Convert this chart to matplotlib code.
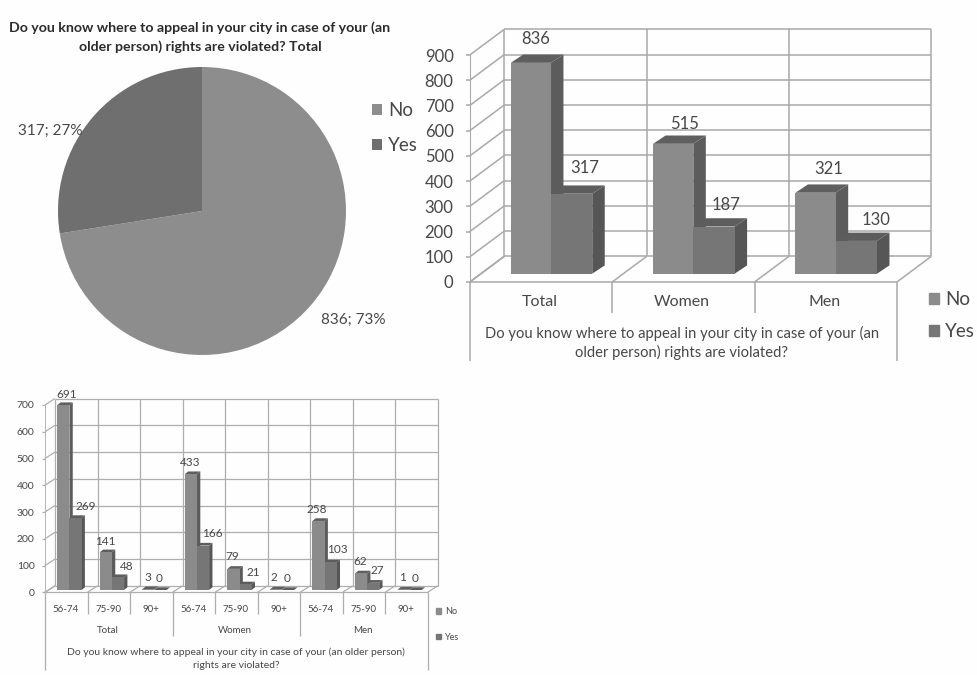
import matplotlib
matplotlib.use("Agg")
import matplotlib.pyplot as plt
from matplotlib.patches import Patch

W, H = 978, 675

# ---- data ----
pie_labels = ["No", "Yes"]
pie_values = [836, 317]
pie_text = ["836; 73%", "317; 27%"]

groups = ["Total", "Women", "Men"]
no_by_group = [836, 515, 321]
yes_by_group = [317, 187, 130]

ages = ["56-74", "75-90", "90+"]
no_by_age = [691, 141, 3, 433, 79, 2, 258, 62, 1]
yes_by_age = [269, 48, 0, 166, 21, 0, 103, 27, 0]

# label offsets from the top centre of each bar's front face (pixels: right, up)
off_mid_no = [(5, 24), (11, 20), (13, 24)]
off_mid_yes = [(13, 26), (12, 22), (20, 21)]
off_low_no = [(3, 11), (-1, 11), (-1, 12), (-1, 12), (-1, 12), (-2, 12), (-2, 11), (-1, 12), (-1, 12)]
off_low_yes = [(10, 12), (9, 11), (-1, 12), (9, 12), (8, 12), (-1, 12), (7, 13), (4, 12), (-1, 12)]

C_NO, C_YES = "#8b8b8b", "#767676"
C_NO_TOP, C_YES_TOP = "#5f5f5f", "#5d5d5d"
C_NO_SIDE, C_YES_SIDE = "#5c5c5c", "#565656"
C_TXT = "#474747"
C_PIE_NO, C_PIE_YES = "#8d8d8d", "#6f6f6f"

plt.rcParams["font.family"] = ["Lato", "DejaVu Sans"]
fig = plt.figure(figsize=(W / 100, H / 100), dpi=100, facecolor="#fefefe")


def axes_px(left, top, right, bottom):
    ax = fig.add_axes([left / W, 1 - bottom / H, (right - left) / W, (bottom - top) / H])
    ax.patch.set_visible(False)
    return ax


def chart3d(box, n, ymax, step, wall, grid, lw, tick_fs, pad, tick_len):
    ax = axes_px(*box)
    ax.set_xlim(0, n)
    ax.set_ylim(0, ymax)
    sx = (box[2] - box[0]) / n
    sy = (box[3] - box[1]) / ymax
    for s in ax.spines.values():
        s.set_visible(False)
    ax.spines["left"].set_visible(True)
    ax.spines["left"].set_color(grid)
    ax.spines["left"].set_linewidth(lw * 0.7)
    ax.set_xticks([])
    ticks = list(range(0, ymax + 1, step))
    ax.set_yticks(ticks)
    ax.tick_params(axis="y", length=tick_len, width=lw, color=grid, labelcolor=C_TXT,
                   labelsize=tick_fs, pad=pad)
    wx, wy = wall[0] / sx, wall[1] / sy
    ln = dict(color=grid, lw=lw, clip_on=False, zorder=1, solid_capstyle="butt")
    for v in ticks:
        ax.plot([0, wx], [v, v + wy], **ln)
        ax.plot([wx, n + wx], [v + wy, v + wy], **ln)
    for x in range(n + 1):
        ax.plot([x, x + wx], [0, wy], **ln)
        ax.plot([x + wx, x + wx], [wy, ymax + wy], **ln)
    ax.plot([0, n], [0, 0], **ln)
    return ax, sx, sy, ln


def bars(ax, sx, sy, vals, frac, width, lift, depth, front, side, top):
    dx, dy = depth[0] / sx, depth[1] / sy
    base = lift / sy
    for i, v in enumerate(vals):
        x0 = i + frac
        x1 = x0 + width
        yt = v + base
        ax.fill([x1, x1 + dx, x1 + dx, x1], [base, base + dy, yt + dy, yt],
                color=side, lw=0, clip_on=False, zorder=3)
        ax.fill([x0, x0 + dx, x1 + dx, x1], [yt, yt + dy, yt + dy, yt],
                color=top, lw=0, clip_on=False, zorder=3)
    return ax.bar([i + frac + width / 2 for i in range(len(vals))], vals, width=width,
                  bottom=base, color=front, lw=0, clip_on=False, zorder=3)


def value_labels(ax, vals, frac, width, lift, sy, offs, fs):
    for i, (v, o) in enumerate(zip(vals, offs)):
        ax.annotate(str(v), xy=(i + frac + width / 2, v + lift / sy), xytext=o,
                    textcoords="offset pixels", ha="center", va="center",
                    color=C_TXT, fontsize=fs, annotation_clip=False, zorder=6)


def under(ax, x, px, text, fs):
    ax.annotate(text, xy=(x, 0), xytext=(0, -px), textcoords="offset pixels",
                ha="center", va="center", color=C_TXT, fontsize=fs, annotation_clip=False)


def drop(ax, x, px, ln, sy):
    ax.plot([x, x], [0, -px / sy], **ln)


# ---- pie ----
cx, cy, r = 202, 211, 144
pax = axes_px(cx - r, cy - r, cx + r, cy + r)
wedges, _ = pax.pie(pie_values, colors=[C_PIE_NO, C_PIE_YES], startangle=90, counterclock=False,
                    radius=1, wedgeprops=dict(lw=0))
pax.set_xlim(-1, 1)
pax.set_ylim(-1, 1)
for w in wedges:
    w.set_clip_on(False)
pax.text(151 / r, -109 / r, pie_text[0], ha="center", va="center", fontsize=11, color=C_TXT)
pax.text(-152 / r, 80 / r, pie_text[1], ha="center", va="center", fontsize=11, color=C_TXT)
fig.text(200 / W, 1 - 28 / H, "Do you know where to appeal in your city in case of your (an",
         ha="center", va="center", fontsize=10.2, fontweight="bold", color="#2b2b2b")
fig.text(200 / W, 1 - 47 / H, "older person) rights are violated? Total",
         ha="center", va="center", fontsize=10.2, fontweight="bold", color="#2b2b2b")
fig.legend(wedges, pie_labels, loc="upper left", bbox_to_anchor=(372 / W, 1 - 102 / H), frameon=False,
           fontsize=13.5, labelcolor=C_TXT, handlelength=0.55, handleheight=0.55, handletextpad=0.3,
           labelspacing=0.95, borderpad=0, borderaxespad=0)

# ---- middle chart ----
ax, sx, sy, ln = chart3d((469.8, 55, 896.9, 282), 3, 900, 100, (34.5, 25.7), "#a9a9a9", 1.1, 12, 8.5, 3.2)
bars(ax, sx, sy, no_by_group, 0.2875, 0.2825, 8.3, (12.5, 8.3), C_NO, C_NO_SIDE, C_NO_TOP)
bars(ax, sx, sy, yes_by_group, 0.57, 0.29, 8.3, (12.5, 8.3), C_YES, C_YES_SIDE, C_YES_TOP)
value_labels(ax, no_by_group, 0.2875, 0.2825, 8.3, sy, off_mid_no, 12)
value_labels(ax, yes_by_group, 0.57, 0.29, 8.3, sy, off_mid_yes, 12)
for x, g in enumerate(groups):
    under(ax, x + 0.49, 20, g, 11.5)
drop(ax, 0, 79, ln, sy)
drop(ax, 3, 79, ln, sy)
drop(ax, 1, 31, ln, sy)
drop(ax, 2, 31, ln, sy)
under(ax, 1.49, 51, "Do you know where to appeal in your city in case of your (an", 10.65)
under(ax, 1.49, 70, "older person) rights are violated?", 10.65)
fig.legend([Patch(color=C_NO), Patch(color=C_YES)], pie_labels, loc="upper left",
           bbox_to_anchor=(929 / W, 1 - 291 / H), frameon=False, fontsize=13.5, labelcolor=C_TXT,
           handlelength=0.55, handleheight=0.55, handletextpad=0.3, labelspacing=0.81,
           borderpad=0, borderaxespad=0)

# ---- lower chart ----
ax, sx, sy, ln = chart3d((45, 405, 427.7, 592.3), 9, 700, 100, (10, 6.5), "#aeaeae", 0.9, 7.5, 5, 2.5)
bars(ax, sx, sy, no_by_age, 0.29, 0.285, 2.3, (3.3, 2.7), C_NO, C_NO_SIDE, C_NO_TOP)
bars(ax, sx, sy, yes_by_age, 0.575, 0.285, 2.3, (3.3, 2.7), C_YES, C_YES_SIDE, C_YES_TOP)
value_labels(ax, no_by_age, 0.29, 0.285, 2.3, sy, off_low_no, 8.5)
value_labels(ax, yes_by_age, 0.575, 0.285, 2.3, sy, off_low_yes, 8.5)
for i in range(9):
    under(ax, i + 0.49, 17, ages[i % 3], 7)
for g, name in enumerate(groups):
    under(ax, 3 * g + 1.47, 38.5, name, 7)
for x in range(10):
    px = 78 if x in (0, 9) else 44 if x in (3, 6) else 22
    drop(ax, x, px, ln, sy)
under(ax, 4.5, 60, "Do you know where to appeal in your city in case of your (an older person)", 7.5)
under(ax, 4.5, 73, "rights are violated?", 7.5)
fig.legend([Patch(color=C_NO), Patch(color=C_YES)], pie_labels, loc="upper left",
           bbox_to_anchor=(436 / W, 1 - 607 / H), frameon=False, fontsize=6.5, labelcolor=C_TXT,
           handlelength=0.6, handleheight=0.6, handletextpad=0.4, labelspacing=1.85,
           borderpad=0, borderaxespad=0)

fig.savefig("out.png", dpi=100, facecolor=fig.get_facecolor())
